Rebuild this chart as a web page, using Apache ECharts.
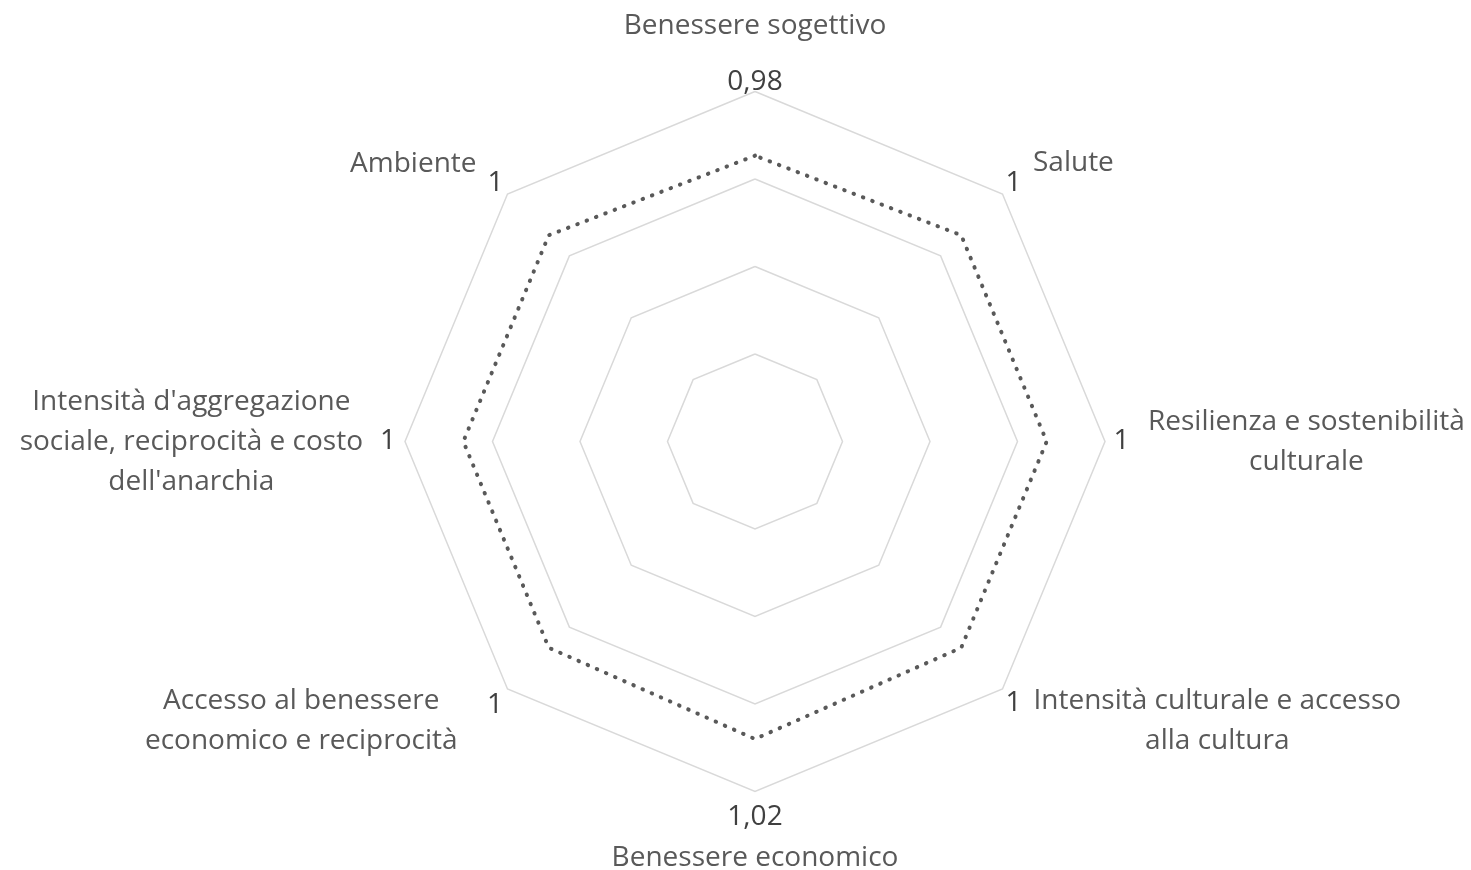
<!DOCTYPE html>
<html>
<head>
<meta charset="utf-8">
<script src="https://cdn.jsdelivr.net/npm/echarts@6/dist/echarts.min.js"></script>
<style>
  html, body { margin: 0; background: #fff; }
  #chart { width: 1471px; height: 870px; }
</style>
</head>
<body>
<div id="chart"></div>
<script>
// axes, clockwise from the top like the original sheet
const categories = [
  'Benessere sogettivo',
  'Salute',
  'Resilienza e sostenibilità\nculturale',
  'Intensità culturale e accesso\nalla cultura',
  'Benessere economico',
  'Accesso al benessere\neconomico e reciprocità',
  "Intensità d'aggregazione\nsociale, reciprocità e costo\ndell'anarchia",
  'Ambiente'
]
const values = [0.98, 1, 1, 1, 1.02, 1, 1, 1]
const axisMax = 1.2

// label nudges per axis: [padLeft, padRight, dy] in px
const nameShift = [
  [0, 0, -65.5], [30.5, 0, -31.4], [43, 0, 0.5], [31, 0, 32],
  [0, 0, 66.8], [0, 50, 32], [0, 42, 0.5], [0, 31, -29.7]
]
const valueShift = [
  [0, 0, -9.5], [3, 0, -10.5], [8.5, 0, 0], [3, 0, 14.5],
  [0, 0, 25.5], [0, 4.5, 16.5], [0, 9, 0], [0, 4, -10.5]
]

const FONT = '"Open Sans", sans-serif'
// echarts places indicators counter-clockwise
const order = [0, 7, 6, 5, 4, 3, 2, 1]

const fmt = v => String(v).replace('.', ',')

function buildLabel(key, text, shift, style, rich) {
  const [pl, pr, dy] = shift
  rich[key] = Object.assign({ align: 'center', padding: [0, pr, 0, pl] }, style)
  let parts = text.split('\n').map(l => `{${key}|${l}}`)
  if (dy) {
    rich[key + 's'] = { fontSize: 1, lineHeight: Math.abs(dy) * 2 }
    const sp = `{${key}s| }`
    parts = dy > 0 ? [sp, ...parts] : [...parts, sp]
  }
  return parts.join('\n')
}

const nameRich = {}
const valueRich = {}
const nameStyle = { color: '#595959', fontSize: 28, fontFamily: FONT, lineHeight: 40 }
const valueStyle = { color: '#404040', fontSize: 28, fontFamily: FONT, lineHeight: 28 }

const nameLabels = categories.map((c, i) => buildLabel('n' + i, c, nameShift[i], nameStyle, nameRich))
const valueLabels = values.map((v, i) => buildLabel('v' + i, fmt(v), valueShift[i], valueStyle, valueRich))

const hidden = { show: false }
const baseRadar = {
  center: [755, 441.5],
  radius: 350,
  startAngle: 90,
  shape: 'polygon',
  splitNumber: 4,
  nameGap: 0,
  axisLine: hidden,
  axisTick: hidden,
  axisLabel: hidden,
  splitArea: hidden
}

const chart = echarts.init(document.getElementById('chart'))

chart.setOption({
  animation: false,
  radar: [
    Object.assign({}, baseRadar, {
      indicator: order.map(i => ({ name: valueLabels[i], min: 0, max: axisMax })),
      axisName: Object.assign({ verticalAlign: 'middle', rich: valueRich }, valueStyle),
      splitLine: { lineStyle: { color: '#d9d9d9', width: 1.5 } }
    }),
    Object.assign({}, baseRadar, {
      indicator: order.map(i => ({ name: nameLabels[i], min: 0, max: axisMax })),
      axisName: Object.assign({ verticalAlign: 'middle', rich: nameRich }, nameStyle),
      splitLine: hidden
    })
  ],
  series: [
    {
      type: 'radar',
      radarIndex: 0,
      symbol: 'none',
      lineStyle: { color: '#595959', width: 4, type: [0.5, 9.5], cap: 'round' },
      data: [{ value: order.map(i => values[i]) }]
    }
  ]
})
</script>
</body>
</html>
